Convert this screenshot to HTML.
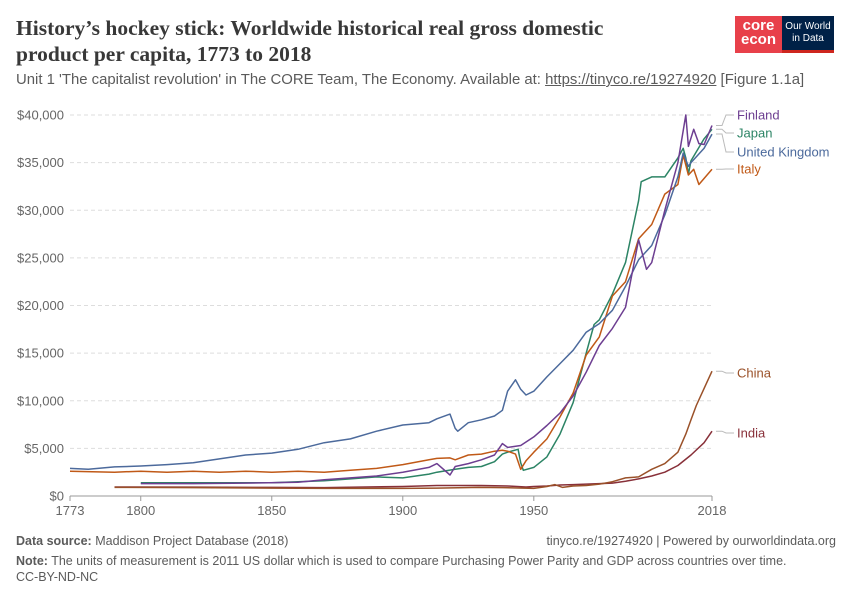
<!DOCTYPE html>
<html><head><meta charset="utf-8">
<style>
body{margin:0;background:#fff;font-family:"Liberation Sans",sans-serif;}
#wrap{position:relative;width:850px;height:600px;overflow:hidden;}
.t{position:absolute;}
</style></head><body>
<div id="wrap">
<div class="t" style="left:16px;top:15px;width:650px;font-family:'Liberation Serif',serif;font-weight:bold;font-size:21.5px;line-height:26px;color:#383838;">History’s hockey stick: Worldwide historical real gross domestic product per capita, 1773 to 2018</div>
<div class="t" style="left:16px;top:72px;font-size:14.9px;color:#5b5b5b;white-space:nowrap;">Unit 1 'The capitalist revolution' in The CORE Team, The Economy. Available at: <span style="text-decoration:underline">https://tinyco.re/19274920</span> [Figure 1.1a]</div>
<div class="t" style="left:735px;top:16px;width:47px;height:37px;background:#e8404a;color:#fff;font-weight:bold;font-size:15px;line-height:14px;text-align:center;padding-top:3px;box-sizing:border-box;">core<br>econ</div>
<div class="t" style="left:782px;top:16px;width:52px;height:37px;background:#002147;border-bottom:3px solid #ce261e;box-sizing:border-box;color:#fff;font-size:10px;line-height:12px;text-align:center;padding-top:5px;">Our World<br>in Data</div>
<svg id="chart" width="850" height="600" style="position:absolute;left:0;top:0"></svg>
<div class="t" style="left:16px;top:534px;font-size:12.5px;color:#5b5b5b;"><b>Data source:</b> Maddison Project Database (2018)</div>
<div class="t" style="right:14px;top:534px;font-size:12.5px;color:#5b5b5b;">tinyco.re/19274920 | Powered by ourworldindata.org</div>
<div class="t" style="left:16px;top:553px;font-size:12.5px;color:#5b5b5b;line-height:16px;"><b>Note:</b> The units of measurement is 2011 US dollar which is used to compare Purchasing Power Parity and GDP across countries over time.<br>CC-BY-ND-NC</div>
</div>
<script>
const yTicks=[0,5000,10000,15000,20000,25000,30000,35000,40000];
const xTicks=[1773,1800,1850,1900,1950,2018];
const ukYears=[1773,1780,1790,1800,1810,1820,1830,1840,1850,1860,1870,1880,1890,1900,1910,1913,1918,1920,1921,1925,1930,1935,1938,1940,1943,1945,1947,1950,1955,1960,1965,1970,1975,1980,1985,1990,1995,2000,2005,2007,2009,2010,2015,2018];
const ukVals=[2900,2800,3050,3150,3300,3500,3900,4300,4500,4900,5600,6000,6800,7450,7700,8100,8600,7100,6800,7700,8000,8400,9000,11000,12200,11200,10600,11000,12500,13900,15300,17200,18100,19500,22000,24800,26300,29500,33500,36000,34600,35000,36500,38000];
const itYears=[1773,1790,1800,1810,1820,1830,1840,1850,1860,1870,1880,1890,1900,1910,1913,1918,1920,1925,1930,1935,1938,1940,1943,1945,1947,1950,1955,1960,1965,1970,1975,1980,1985,1990,1995,2000,2005,2007,2009,2011,2013,2018];
const itVals=[2600,2500,2600,2500,2600,2500,2600,2500,2600,2500,2700,2900,3300,3800,3950,4000,3800,4300,4400,4700,4800,4700,4400,2800,3700,4600,6000,8300,10800,14800,16700,21000,22500,27000,28500,31700,32700,35800,33700,34300,32700,34300];
const fiYears=[1800,1820,1840,1860,1870,1880,1890,1900,1910,1913,1918,1920,1925,1930,1935,1938,1940,1945,1950,1955,1960,1965,1970,1975,1980,1985,1990,1993,1995,2000,2005,2008,2009,2011,2013,2015,2018];
const fiVals=[1300,1300,1350,1450,1700,1900,2100,2500,3000,3400,2200,3100,3400,3800,4300,5500,5100,5300,6200,7400,8700,10500,13000,15800,17600,19800,26900,23800,24500,30000,35000,40000,36700,38500,37000,36900,38900];
const jpYears=[1800,1850,1870,1880,1890,1900,1910,1913,1920,1925,1930,1935,1938,1940,1944,1945,1946,1950,1955,1960,1965,1970,1973,1975,1980,1985,1990,1991,1995,2000,2005,2007,2008,2009,2010,2015,2018];
const jpVals=[1400,1400,1600,1800,2000,1900,2300,2500,2800,3000,3100,3600,4400,4600,4900,3500,2700,3000,4100,6500,9800,15000,18000,18500,21200,24500,31000,33000,33500,33500,35500,36500,35500,33800,35200,37500,38500];
const cnYears=[1790,1820,1850,1870,1900,1913,1929,1938,1950,1955,1958,1961,1965,1970,1975,1978,1980,1985,1990,1995,2000,2005,2008,2010,2012,2015,2018];
const cnVals=[900,880,830,800,800,830,900,880,800,1000,1200,900,1050,1100,1250,1400,1500,1900,2000,2800,3400,4600,6500,8000,9500,11300,13100];
const inYears=[1790,1820,1850,1870,1900,1913,1930,1940,1947,1950,1955,1960,1965,1970,1975,1980,1985,1990,1995,2000,2005,2010,2015,2018];
const inVals=[950,930,900,880,1000,1100,1100,1050,950,1000,1050,1150,1200,1250,1300,1350,1550,1800,2100,2500,3200,4300,5600,6800];
const names=['Finland','Japan','United Kingdom','Italy','China','India'];
const colors={'Finland':'#6d3e91','Japan':'#2c8465','United Kingdom':'#4c6a9c','Italy':'#c05917','China':'#9a5129','India':'#883039'};
const NS='http://www.w3.org/2000/svg';
const svg=document.getElementById('chart');
const X0=70,X1=712,Y0=496,Y1=115;
const xs=y=>X0+(y-1773)/(2018-1773)*(X1-X0);
const ys=v=>Y0-v/40000*(Y0-Y1);
function mk(tag,attrs){const e=document.createElementNS(NS,tag);for(const k in attrs)e.setAttribute(k,attrs[k]);svg.appendChild(e);return e;}
yTicks.forEach(v=>{
  const g=mk('line',{x1:X0,x2:X1,y1:ys(v),y2:ys(v),stroke:v===0?'#999':'#ddd','stroke-dasharray':v===0?'':'4,3'});
  
  
  const t=mk('text',{x:64,y:ys(v)+4.5,'text-anchor':'end','font-size':13,fill:'#666','font-family':'Liberation Sans,sans-serif'});
  t.textContent='$'+v.toLocaleString('en-US');
  
  
});
xTicks.forEach(y=>{
  const l=mk('line',{x1:xs(y),x2:xs(y),y1:Y0,y2:Y0+5,stroke:'#999'});
  
  
  const t=mk('text',{x:xs(y),y:Y0+19,'text-anchor':'middle','font-size':13,fill:'#666','font-family':'Liberation Sans,sans-serif'});
  t.textContent=y;
  
  
});
const series=[['India',inYears,inVals],['China',cnYears,cnVals],['Japan',jpYears,jpVals],['Italy',itYears,itVals],['United Kingdom',ukYears,ukVals],['Finland',fiYears,fiVals]];
series.forEach(([n,yr,vl])=>{
  const d=yr.map((y,i)=>(i?'L':'M')+xs(y).toFixed(1)+','+ys(vl[i]).toFixed(1)).join('');
  const p=mk('path',{d:d,fill:'none',stroke:colors[n],'stroke-width':1.5,'stroke-linejoin':'round'});
  
  
});
const labelY={'Finland':115,'Japan':133,'United Kingdom':152,'Italy':169,'China':373,'India':433};
const last={'Finland':fiVals[fiVals.length-1],'Japan':jpVals[jpVals.length-1],'United Kingdom':ukVals[ukVals.length-1],'Italy':itVals[itVals.length-1],'China':cnVals[cnVals.length-1],'India':inVals[inVals.length-1]};
names.forEach(n=>{
  const y0=ys(last[n]),y1=labelY[n];
  const l=mk('path',{d:`M716,${y0}L722,${y0}L726,${y1}L734,${y1}`,fill:'none',stroke:'#bbb','stroke-width':1});
  
  
  const t=mk('text',{x:737,y:y1+4.5,'font-size':13,fill:colors[n],'font-family':'Liberation Sans,sans-serif'});
  t.textContent=n;
  
  
});
</script>
</body></html>
